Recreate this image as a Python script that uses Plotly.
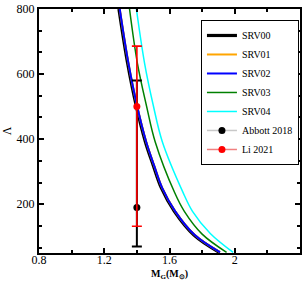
import plotly.graph_objects as go

# SRV00 (black)
m_srv00 = [1.290, 1.343, 1.395, 1.452, 1.500, 1.550, 1.630, 1.750, 1.905]
lam_srv00 = [800, 634, 505, 392, 320, 250, 178, 105, 52]
# SRV01 (orange, hidden under SRV02)
m_srv01 = [1.295, 1.348, 1.400, 1.457, 1.505, 1.555, 1.635, 1.755, 1.910]
lam_srv01 = [800, 634, 505, 392, 320, 250, 178, 105, 52]
# SRV02 (blue)
m_srv02 = [1.295, 1.348, 1.400, 1.457, 1.505, 1.555, 1.635, 1.755, 1.910]
lam_srv02 = [800, 634, 505, 392, 320, 250, 178, 105, 52]
# SRV03 (green)
m_srv03 = [1.355, 1.403, 1.460, 1.512, 1.632, 1.691, 1.800, 1.950]
lam_srv03 = [800, 634, 500, 392, 235, 178, 108, 52]
# SRV04 (cyan)
m_srv04 = [1.397, 1.447, 1.500, 1.556, 1.682, 1.741, 1.850, 1.990]
lam_srv04 = [800, 634, 505, 392, 237, 178, 110, 52]

# Observational constraints
abbott_m = [1.4]
abbott_lam = [190]
abbott_up = [390]
abbott_down = [120]

li_m = [1.4]
li_lam = [500]
li_up = [186]
li_down = [368]

x_tickvals = [0.8, 1.2, 1.6, 2.0]
x_ticktext = ["0.8", "1.2", "1.6", "2"]
y_tickvals = [200, 400, 600, 800]
y_ticktext = ["200", "400", "600", "800"]

FONT = "Liberation Serif, serif"

fig = go.Figure()

curves = [
    ("SRV00", m_srv00, lam_srv00, "black", 3.2),
    ("SRV01", m_srv01, lam_srv01, "orange", 2),
    ("SRV02", m_srv02, lam_srv02, "blue", 2),
    ("SRV03", m_srv03, lam_srv03, "green", 1.5),
    ("SRV04", m_srv04, lam_srv04, "cyan", 1.5),
]
for rank, (name, xs, ys, col, w) in enumerate(curves):
    fig.add_trace(go.Scatter(
        x=xs, y=ys, name=name, mode="lines",
        line=dict(color=col, width=w, shape="spline", smoothing=1.0),
        legendrank=rank + 1,
    ))

fig.add_trace(go.Scatter(
    x=abbott_m, y=abbott_lam, name="Abbott 2018", mode="lines+markers",
    marker=dict(color="black", size=7),
    line=dict(color="#c8c8c8", width=1.5),
    error_y=dict(type="data", array=abbott_up, arrayminus=abbott_down,
                 color="black", thickness=2, width=5),
    legendrank=6,
))
fig.add_trace(go.Scatter(
    x=li_m, y=li_lam, name="Li 2021", mode="lines+markers",
    marker=dict(color="red", size=7),
    line=dict(color="#f08080", width=1.5),
    error_y=dict(type="data", array=li_up, arrayminus=li_down,
                 color="red", thickness=1.6, width=5),
    legendrank=7,
))

axis_common = dict(
    showline=True, linecolor="black", linewidth=2, mirror="ticks",
    ticks="inside", ticklen=5, tickwidth=2, tickcolor="black",
    showgrid=False, zeroline=False, ticklabeloverflow="allow",
    tickfont=dict(family=FONT, size=12, color="black"),
)

fig.update_xaxes(
    range=[0.8, 2.4], tickvals=x_tickvals, ticktext=x_ticktext,
    minor=dict(ticks="inside", dtick=0.2, tick0=0.8, ticklen=3, tickwidth=2, tickcolor="black", showgrid=False),
    ticklabelstandoff=-5,
    **axis_common,
)
fig.update_yaxes(
    range=[50, 800], tickvals=y_tickvals, ticktext=y_ticktext,
    minor=dict(ticks="inside", dtick=200 / 3, tick0=0, ticklen=3, tickwidth=2, tickcolor="black", showgrid=False),
    title=dict(text="Λ", font=dict(family=FONT, size=12, color="black"), standoff=6),
    **axis_common,
)

fig.add_annotation(
    text="<b>M<sub>G</sub>(M<sub>⊙</sub>)</b>",
    xref="paper", yref="paper", x=0.5, y=-0.088,
    xanchor="center", yanchor="middle", showarrow=False,
    font=dict(family=FONT, size=10, color="black"),
)

fig.update_layout(
    width=304, height=281,
    margin=dict(l=34, r=2, t=5, b=28),
    plot_bgcolor="white", paper_bgcolor="white",
    font=dict(family=FONT, color="black"),
    legend=dict(
        x=0.996, y=0.955, xanchor="right", yanchor="top",
        bgcolor="white", bordercolor="black", borderwidth=1,
        font=dict(family=FONT, size=10, color="black"),
        itemwidth=30, tracegroupgap=0,
    ),
    showlegend=True,
)

fig.write_html("out.html", config={"displayModeBar": False},
               post_script="document.body.style.margin='0';")
